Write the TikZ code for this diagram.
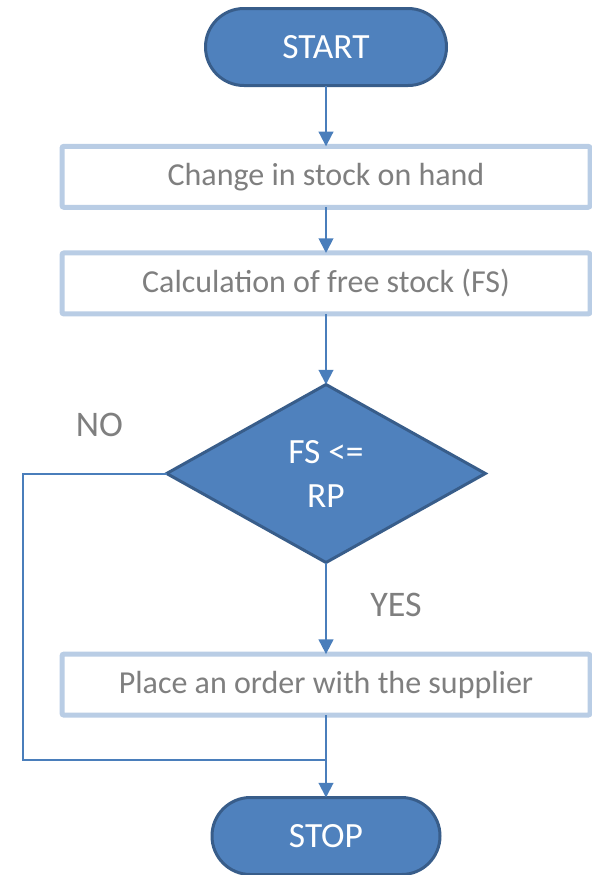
\documentclass[tikz,border=0pt]{standalone}
\usepackage{fontspec}
\setmainfont{Carlito}
\usepackage{xcolor}
\usepackage{tikz}
\usetikzlibrary{positioning,shapes.geometric,arrows.meta}

\definecolor{shapefill}{HTML}{4F81BD}
\definecolor{shapeline}{HTML}{385D8A}
\definecolor{boxline}{HTML}{B9CDE5}
\definecolor{flowline}{HTML}{4A7EBB}
\definecolor{textgray}{HTML}{7F7F7F}

\begin{document}
\begin{tikzpicture}[>={Triangle[length=11pt,width=11pt]},
                    terminal/.style={draw=shapeline, line width=2.25pt, fill=shapefill, rounded corners=28.8pt,
                                     minimum height=57.75pt, outer sep=0pt, text=white, font=\fontsize{26.6}{33}\selectfont},
                    process/.style={draw=boxline, line width=3.75pt, fill=white, rounded corners=1.5pt,
                                    minimum width=396pt, minimum height=45.75pt, outer sep=0pt, text=textgray,
                                    font=\fontsize{24}{29}\selectfont},
                    decision/.style={diamond, draw=shapeline, line width=2.25pt, fill=shapefill, minimum width=239pt,
                                     minimum height=133.5pt, inner sep=0pt, outer sep=0pt, align=center, text=white,
                                     font=\fontsize{26.6}{33}\selectfont},
                    flow/.style={draw=flowline, line width=1.5pt},
                    lbl/.style={text=textgray, font=\fontsize{27}{32}\selectfont}]
\useasboundingbox (0,0) rectangle (444pt,-656.25pt);
\node[terminal, minimum width=180.75pt] (start) at (244.5pt,-35.25pt) {START};
\node[process, below=45.6pt of start] (change) {Change in stock on hand};
\node[process, below=34.25pt of change] (calc) {Calculation of free stock (FS)};
\node[decision, below=52.9pt of calc] (cond) {FS <=\\RP};
\node[process, below=68.7pt of cond] (order) {Place an order with the supplier};
\node[terminal, minimum width=171pt, below=61.8pt of order] (stop) {STOP};
\node[lbl] (no) at (74.6pt,-318.75pt) {NO};
\node[lbl] (yes) at (297pt,-453.75pt) {YES};
\coordinate (loop) at (17.25pt,-570pt);
\draw[flow,->] (start) -- (change);
\draw[flow,->] (change) -- (calc);
\draw[flow,->] (calc) -- (cond);
\draw[flow,->] (cond) -- (order);
\draw[flow,->] (order) -- (stop);
\draw[flow] (cond.west) -| (loop) -- (loop -| stop.north);
\end{tikzpicture}
\end{document}
